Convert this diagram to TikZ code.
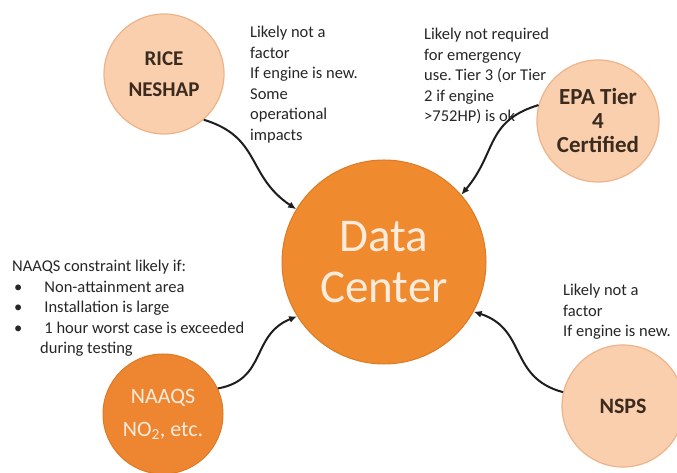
\documentclass[tikz,border=0pt]{standalone}
\usepackage{fontspec}
\setmainfont{Carlito}
\frenchspacing
\usetikzlibrary{arrows.meta}
\definecolor{peach}{HTML}{F9CFAD}
\definecolor{peachedge}{HTML}{EDB48A}
\definecolor{dcorange}{HTML}{EF8A2E}
\definecolor{dcedge}{HTML}{DD7A24}
\definecolor{naorange}{HTML}{EE8631}
\definecolor{lighttext}{HTML}{FDEBDB}
\definecolor{darktext}{HTML}{3B2A1E}
\definecolor{notetext}{HTML}{262626}
\definecolor{arrowc}{HTML}{1E1E1E}
\tikzset{
  smallcirc/.style={circle, fill=peach, draw=peachedge, line width=1.2pt, minimum size=122pt, inner sep=0pt, align=center, text=darktext},
  bigcirc/.style={circle, fill=dcorange, draw=dcedge, line width=1pt, minimum size=204pt, inner sep=0pt, align=center, text=lighttext},
  nacirc/.style={circle, fill=naorange, draw=dcedge, line width=1pt, minimum size=120pt, inner sep=0pt, align=center, text=lighttext},
  note/.style={anchor=north west, inner sep=0pt, align=left, text=notetext, font=\fontsize{16.5}{20.5}\selectfont},
  conn/.style={draw=arrowc, line width=2pt, -{Latex[length=8pt,width=7pt]}, looseness=1.2}
}
\begin{document}
\begin{tikzpicture}[x=1pt,y=1pt]
\useasboundingbox (0,0) rectangle (677,473);
\fill[white] (0,0) rectangle (677,473);
% circles
\node[bigcirc, font=\fontsize{47}{51}\selectfont] (dc) at (384,211) {Data\\Center};
\node[smallcirc, minimum size=120pt, font=\bfseries\fontsize{21}{31}\selectfont] (rice) at (164,399) {RICE\\NESHAP};
\node[smallcirc, font=\bfseries\fontsize{23}{24}\selectfont] (epa) at (598,352) {EPA Tier\\4\\Certified};
\node[nacirc, font=\fontsize{22}{33}\selectfont] (naaqs) at (163,59) {NAAQS\\NO\textsubscript{2}, etc.};
\node[smallcirc, font=\bfseries\fontsize{22}{26}\selectfont] (nsps) at (623,67) {NSPS};
% notes
\node[note] (ricenote) at (250,447) {Likely not a\\factor\\If engine is new.\\Some\\operational\\impacts};
\node[note] (epanote) at (424,445) {Likely not required\\for emergency\\use. Tier 3 (or Tier\\2 if engine\\>752HP) is ok};
\node[note] (naaqsnote) at (12,213) {NAAQS constraint likely if:\\\hspace*{2pt}•\hspace*{22pt}Non-attainment area\\\hspace*{2pt}•\hspace*{22pt}Installation is large\\\hspace*{2pt}•\hspace*{22pt}1 hour worst case is exceeded\\\hspace*{28pt}during testing};
\node[note] (nspsnote) at (563,189) {Likely not a\\factor\\If engine is new.};
% connectors
\draw[conn] (rice.-49) to[out=-17,in=146] (dc.149);
\draw[conn] (epa.165) to[out=197,in=50] (dc.41);
\draw[conn] (naaqs.25) to[out=10,in=202] (dc.-148);
\draw[conn] (nsps.167) to[out=165,in=-18] (dc.-29);
\end{tikzpicture}
\end{document}
